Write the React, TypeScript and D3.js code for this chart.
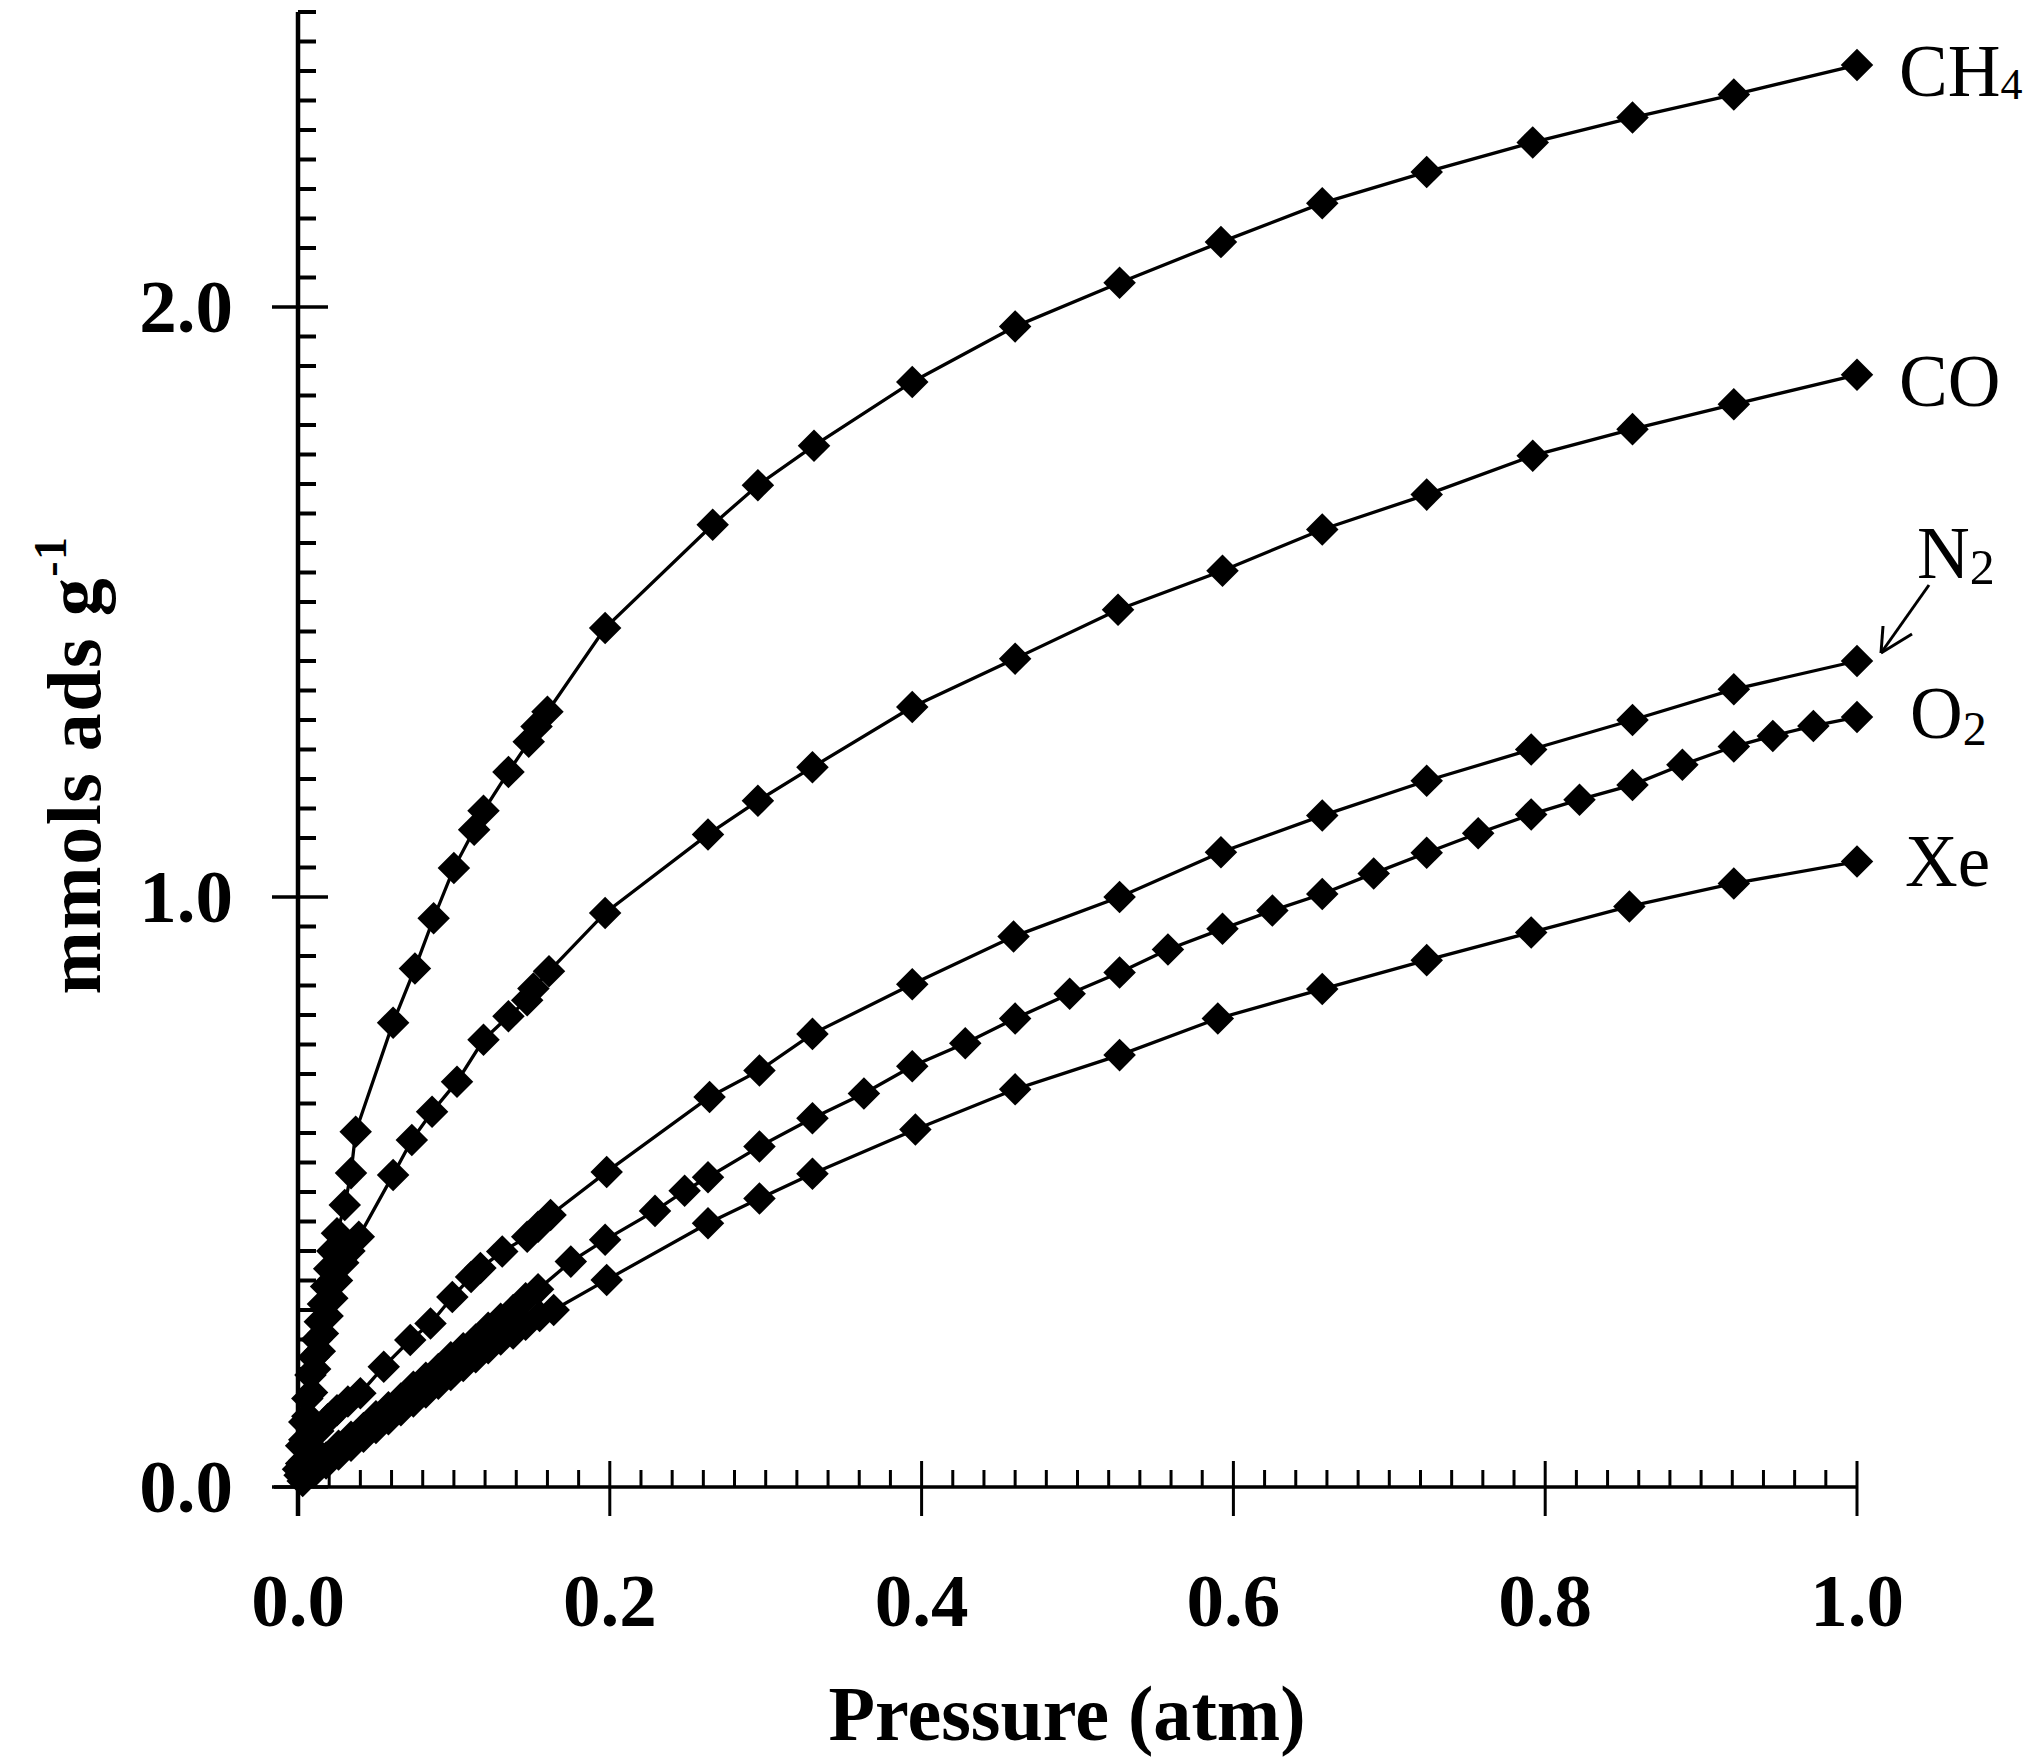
import React from 'react';
import * as d3 from 'd3';

const W = 2040;
const H = 1761;

const xTickValues = [0, 0.2, 0.4, 0.6, 0.8, 1.0];
const xTickLabels = ['0.0', '0.2', '0.4', '0.6', '0.8', '1.0'];
const yTickValues = [0, 1.0, 2.0];
const yTickLabels = ['0.0', '1.0', '2.0'];

const xTitle = 'Pressure (atm)';
const yTitleMain = 'mmols ads g';
const yTitleSup = '-1';

// CH4
const ch4X = [0.000, 0.002, 0.004, 0.006, 0.008, 0.010, 0.012, 0.014, 0.016, 0.018, 0.020, 0.022, 0.025, 0.030, 0.034, 0.037,
  0.061, 0.075, 0.087, 0.100, 0.113, 0.119, 0.135, 0.148, 0.153, 0.160, 0.197, 0.266, 0.295, 0.331, 0.394, 0.460, 0.527,
  0.592, 0.657, 0.724, 0.792, 0.856, 0.921, 1.000];
const ch4Y = [0.03, 0.07, 0.11, 0.15, 0.19, 0.22, 0.25, 0.28, 0.31, 0.34, 0.37, 0.40, 0.43, 0.478, 0.532, 0.602,
  0.787, 0.879, 0.964, 1.049, 1.114, 1.146, 1.212, 1.263, 1.289, 1.314, 1.456, 1.631, 1.698, 1.765, 1.873, 1.967, 2.041,
  2.110, 2.176, 2.229, 2.279, 2.321, 2.360, 2.410];

// CO
const coX = [0.002, 0.004, 0.006, 0.009, 0.011, 0.014, 0.016, 0.019, 0.022, 0.025, 0.029, 0.033, 0.039,
  0.061, 0.073, 0.086, 0.102, 0.119, 0.135, 0.147, 0.151, 0.161, 0.197, 0.263, 0.295, 0.330, 0.394, 0.460, 0.526,
  0.593, 0.657, 0.724, 0.792, 0.856, 0.921, 1.000];
const coY = [0.04, 0.08, 0.12, 0.16, 0.20, 0.23, 0.26, 0.29, 0.32, 0.35, 0.38, 0.40, 0.424,
  0.529, 0.588, 0.636, 0.687, 0.758, 0.798, 0.825, 0.845, 0.874, 0.973, 1.106, 1.163, 1.220, 1.322, 1.404, 1.487,
  1.553, 1.623, 1.682, 1.748, 1.793, 1.835, 1.885];

// N2
const n2X = [0.001, 0.004, 0.008, 0.013, 0.019, 0.025, 0.032, 0.040, 0.055, 0.072, 0.085, 0.099, 0.111, 0.117, 0.131,
  0.147, 0.154, 0.162, 0.198, 0.264, 0.296, 0.330, 0.394, 0.459, 0.527, 0.592, 0.657, 0.724, 0.791, 0.856, 0.921, 1.000];
const n2Y = [0.02, 0.045, 0.07, 0.095, 0.115, 0.13, 0.145, 0.159, 0.204, 0.249, 0.277, 0.322, 0.356, 0.371, 0.399,
  0.424, 0.441, 0.461, 0.534, 0.661, 0.706, 0.768, 0.852, 0.933, 1.000, 1.076, 1.138, 1.197, 1.250, 1.300, 1.352, 1.400];

// O2
const o2X = [0.003, 0.010, 0.018, 0.026, 0.034, 0.042, 0.050, 0.058, 0.066, 0.074, 0.082, 0.090, 0.098, 0.106, 0.114,
  0.122, 0.130, 0.138, 0.146, 0.154, 0.175, 0.197, 0.229, 0.248, 0.263, 0.296, 0.330, 0.363, 0.394, 0.428, 0.460, 0.495,
  0.527, 0.558, 0.593, 0.625, 0.657, 0.690, 0.724, 0.757, 0.791, 0.822, 0.856, 0.888, 0.921, 0.946, 0.972, 1.000];
const o2Y = [0.02, 0.035, 0.05, 0.07, 0.085, 0.10, 0.12, 0.135, 0.15, 0.17, 0.185, 0.20, 0.22, 0.235, 0.25,
  0.27, 0.285, 0.30, 0.32, 0.335, 0.382, 0.419, 0.468, 0.502, 0.525, 0.577, 0.625, 0.667, 0.713, 0.752, 0.794, 0.836,
  0.872, 0.911, 0.946, 0.977, 1.005, 1.040, 1.075, 1.108, 1.140, 1.165, 1.190, 1.224, 1.255, 1.273, 1.290, 1.305];

// Xe
const xeX = [0.003, 0.010, 0.018, 0.026, 0.034, 0.042, 0.050, 0.058, 0.066, 0.074, 0.082, 0.090, 0.098, 0.106, 0.114,
  0.122, 0.130, 0.138, 0.146, 0.155, 0.164, 0.198, 0.263, 0.296, 0.330, 0.396, 0.460, 0.527, 0.590, 0.657, 0.724, 0.791,
  0.854, 0.921, 1.000];
const xeY = [0.01, 0.025, 0.04, 0.055, 0.07, 0.085, 0.10, 0.115, 0.13, 0.145, 0.16, 0.175, 0.19, 0.205, 0.22,
  0.235, 0.25, 0.26, 0.275, 0.29, 0.300, 0.351, 0.447, 0.489, 0.531, 0.606, 0.674, 0.732, 0.794, 0.844, 0.893, 0.940,
  0.984, 1.023, 1.060];

const seriesNames = ['CH4', 'CO', 'N2', 'O2', 'Xe'];

type Pt = [number, number];
const zip = (xs: number[], ys: number[]): Pt[] => xs.map((v, i) => [v, ys[i]]);

const SERIF = "'Liberation Serif', 'Times New Roman', Times, serif";

export default function App() {
  const x = d3.scaleLinear().domain([0, 1]).range([298, 1857]);
  const y = d3.scaleLinear().domain([0, 2.5]).range([1487, 12]);

  const series: { name: string; pts: Pt[] }[] = [
    { name: seriesNames[0], pts: zip(ch4X, ch4Y) },
    { name: seriesNames[1], pts: zip(coX, coY) },
    { name: seriesNames[2], pts: zip(n2X, n2Y) },
    { name: seriesNames[3], pts: zip(o2X, o2Y) },
    { name: seriesNames[4], pts: zip(xeX, xeY) },
  ];

  const line = d3.line<Pt>().x(d => x(d[0])).y(d => y(d[1]));
  const marker = d3.symbol().type(d3.symbolSquare).size(23 * 23)() as string;

  const yMinor = d3.range(0, 2.5001, 0.05).filter(v => Math.abs(v - Math.round(v)) > 1e-6);
  const xMinor = d3.range(0, 1.0001, 0.02).filter(v => Math.abs(v * 5 - Math.round(v * 5)) > 1e-6);

  const x0 = x(0);
  const y0 = y(0);

  const last = (s: Pt[]) => s[s.length - 1];
  const n2Last = last(series[2].pts);
  const tipX = x(n2Last[0]) + 24;
  const tipY = y(n2Last[1]) - 8;

  const labelX = x(1) + 42;

  return (
    <svg width={W} height={H} viewBox={`0 0 ${W} ${H}`}
      style={{ position: 'absolute', left: 0, top: 0, background: '#fff', display: 'block' }}>
      <rect x={0} y={0} width={W} height={H} fill="#fff" />

      {/* axes */}
      <line x1={x0} x2={x0} y1={y(2.5)} y2={y0 + 29} stroke="#000" strokeWidth={4.5} />
      <line x1={x0 - 24} x2={x(1)} y1={y0} y2={y0} stroke="#000" strokeWidth={3.5} />

      {yMinor.map((v, i) => (
        <line key={'ym' + i} x1={x0} x2={x0 + 18} y1={y(v)} y2={y(v)} stroke="#000" strokeWidth={4} />
      ))}
      {yTickValues.map((v, i) => (
        <line key={'yM' + i} x1={x0 - 26} x2={x0 + 30} y1={y(v)} y2={y(v)} stroke="#000" strokeWidth={3.5} />
      ))}
      {xMinor.map((v, i) => (
        <line key={'xm' + i} x1={x(v)} x2={x(v)} y1={y0} y2={y0 - 17} stroke="#000" strokeWidth={3} />
      ))}
      {xTickValues.map((v, i) => (
        <line key={'xM' + i} x1={x(v)} x2={x(v)} y1={y0 - 26} y2={y0 + 29} stroke="#000" strokeWidth={3} />
      ))}

      {/* tick labels */}
      {yTickValues.map((v, i) => (
        <text key={'yl' + i} x={233} y={y(v) + 25} textAnchor="end" fontFamily={SERIF}
          fontWeight="bold" fontSize={75}>{yTickLabels[i]}</text>
      ))}
      {xTickValues.map((v, i) => (
        <text key={'xl' + i} x={x(v)} y={1626} textAnchor="middle" fontFamily={SERIF}
          fontWeight="bold" fontSize={75}>{xTickLabels[i]}</text>
      ))}

      {/* axis titles */}
      <text x={1067} y={1740} textAnchor="middle" fontFamily={SERIF} fontWeight="bold" fontSize={78}
        textLength={477} lengthAdjust="spacingAndGlyphs">{xTitle}</text>
      <text transform="translate(100,765) rotate(-90)" textAnchor="middle" fontFamily={SERIF}
        fontWeight="bold" fontSize={76} letterSpacing={1.5}>
        {yTitleMain}
        <tspan fontSize={46} dy={-34}>{yTitleSup}</tspan>
      </text>

      {/* series */}
      {series.map(s => (
        <g key={s.name}>
          <path d={line(s.pts) as string} fill="none" stroke="#000" strokeWidth={3.3} />
          {s.pts.map((p, i) => (
            <path key={i} d={marker} transform={`translate(${x(p[0])},${y(p[1])}) rotate(45)`} fill="#000" />
          ))}
        </g>
      ))}

      {/* series labels */}
      <text x={labelX} y={96} fontFamily={SERIF} fontSize={73}>CH<tspan fontSize={44} dy={3}>4</tspan></text>
      <text x={labelX} y={406} fontFamily={SERIF} fontSize={73}>CO</text>
      <text x={labelX + 18} y={578} fontFamily={SERIF} fontSize={73}>N<tspan fontSize={50} dy={6}>2</tspan></text>
      <text x={labelX + 11} y={738} fontFamily={SERIF} fontSize={73}>O<tspan fontSize={48} dy={7}>2</tspan></text>
      <text x={labelX + 6} y={886} fontFamily={SERIF} fontSize={73}>Xe</text>

      {/* N2 arrow */}
      <line x1={tipX + 48} y1={tipY - 68} x2={tipX} y2={tipY} stroke="#000" strokeWidth={3} />
      <line x1={tipX} y1={tipY} x2={tipX + 2} y2={tipY - 27} stroke="#000" strokeWidth={3} />
      <line x1={tipX} y1={tipY} x2={tipX + 31} y2={tipY - 19} stroke="#000" strokeWidth={3} />
    </svg>
  );
}
